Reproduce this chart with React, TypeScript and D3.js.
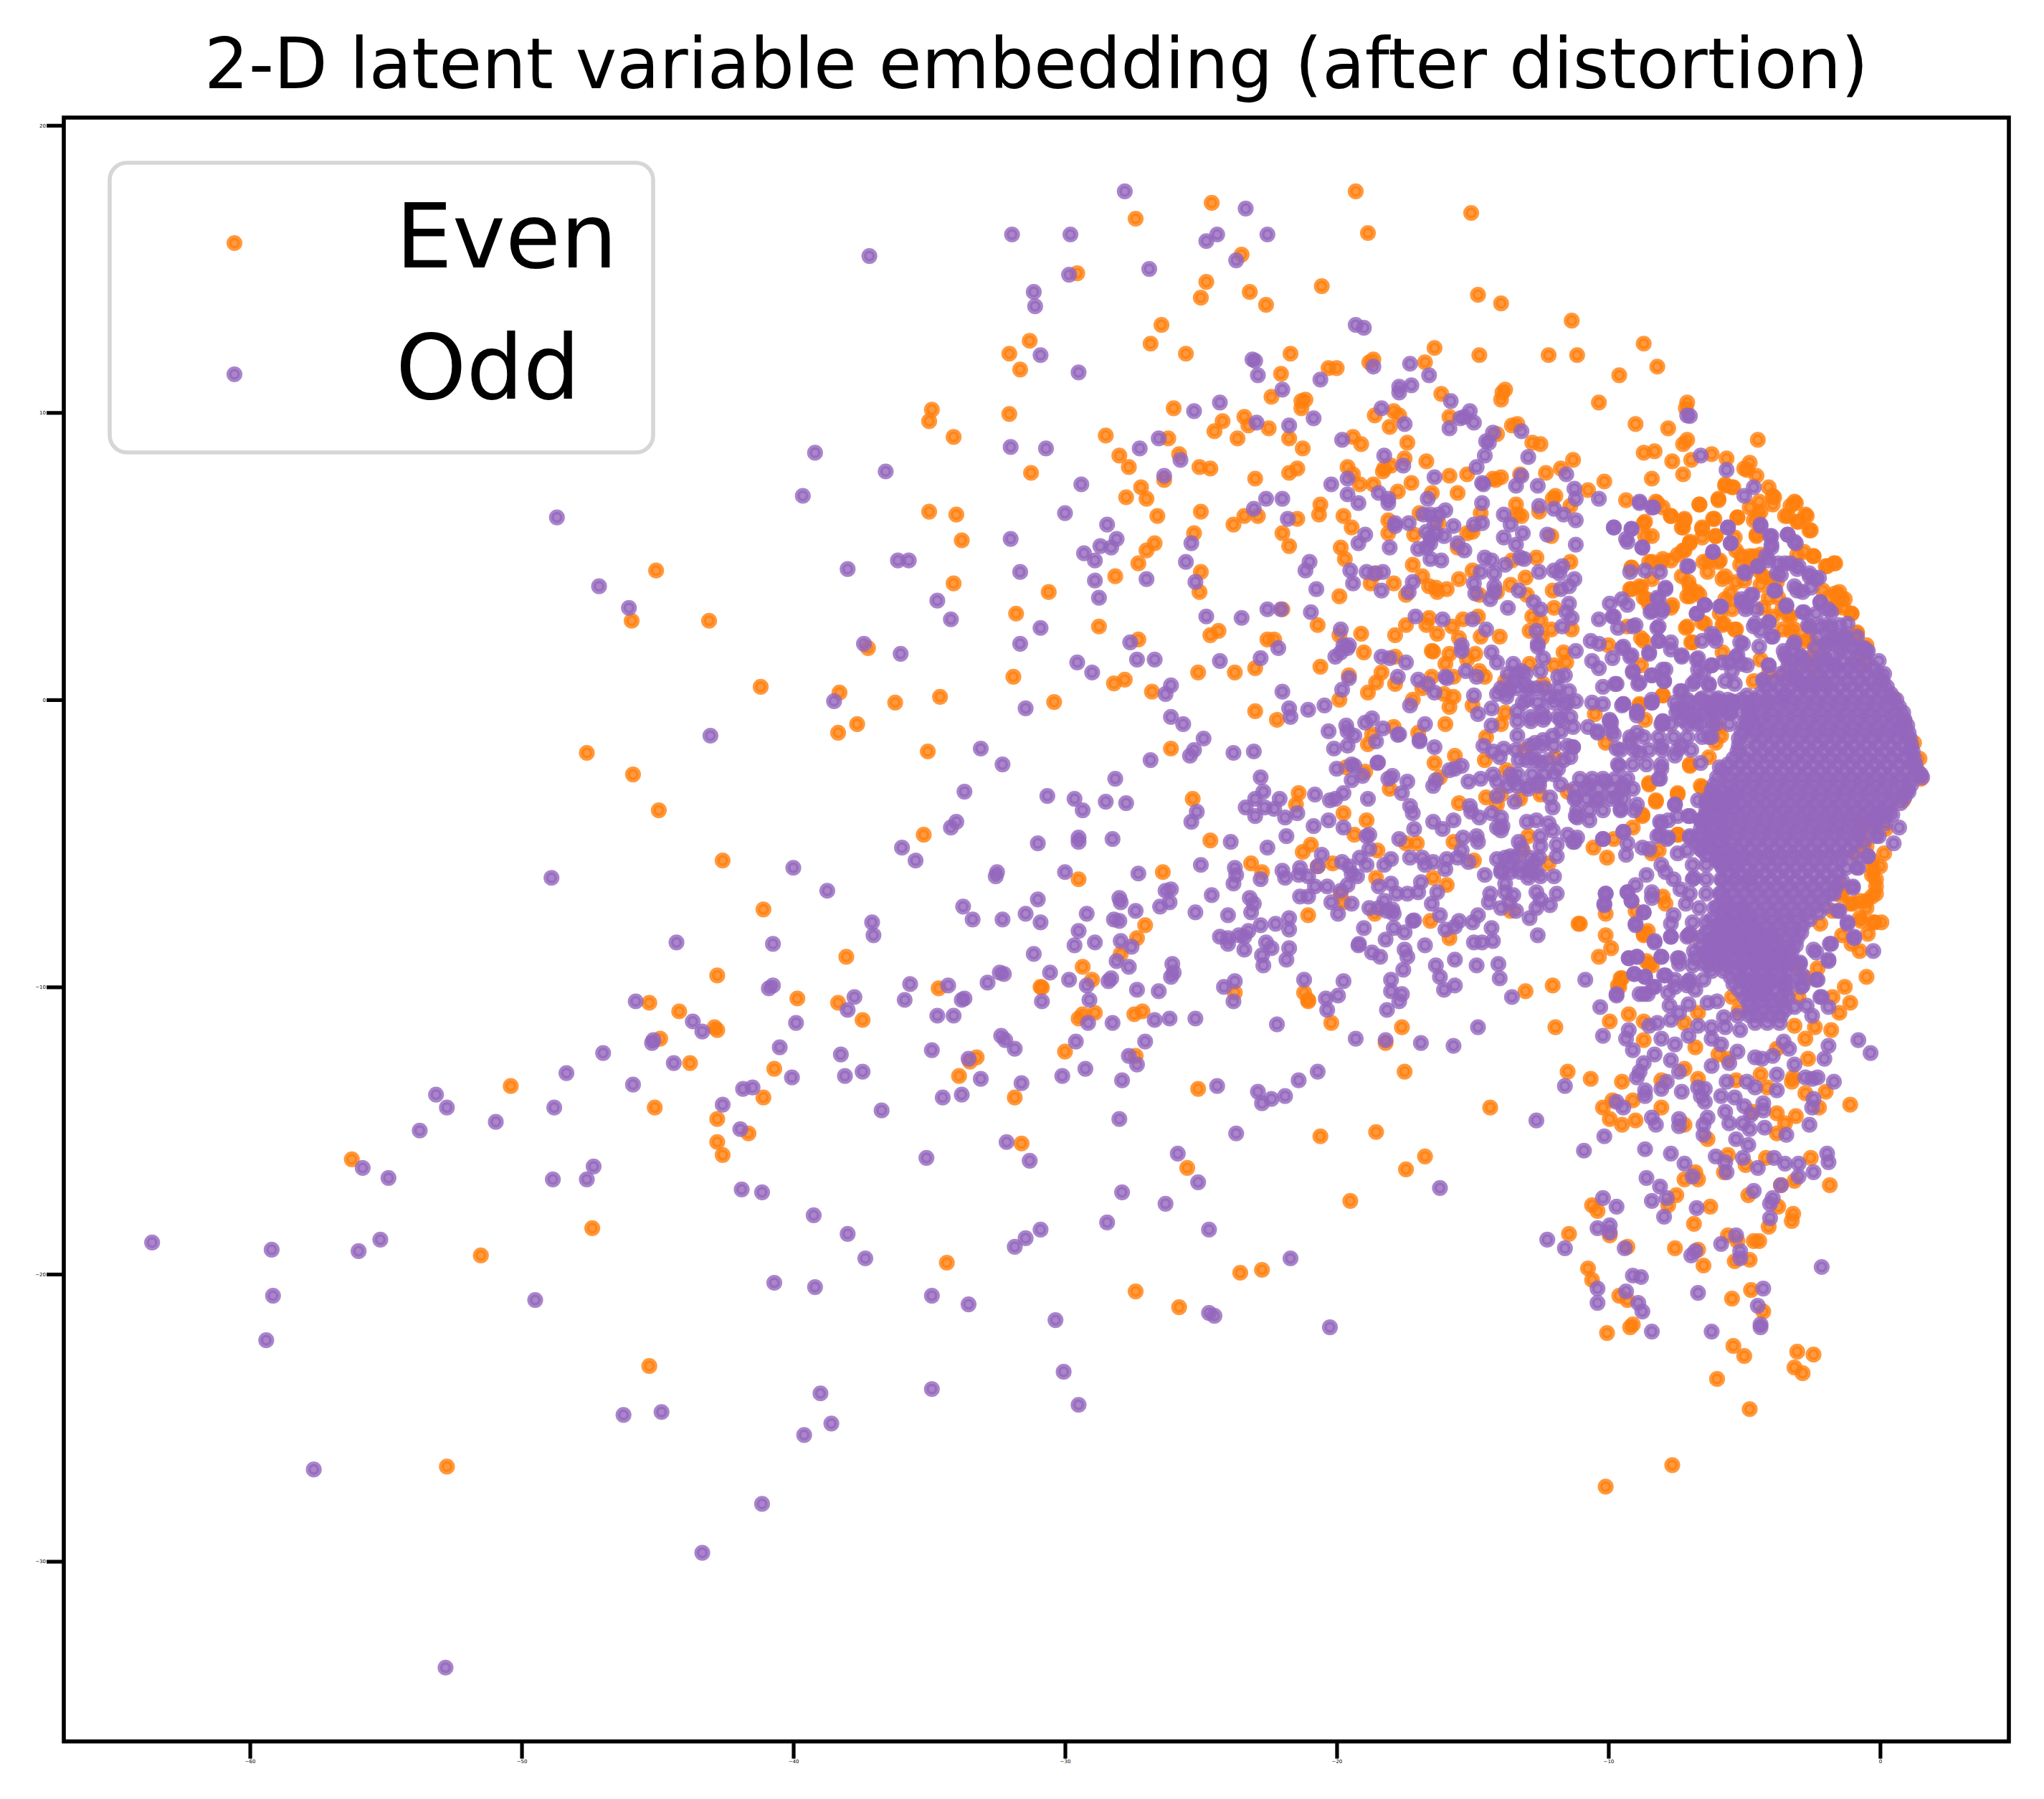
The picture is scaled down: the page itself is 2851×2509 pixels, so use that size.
import { useEffect, useRef } from "react";
import * as d3 from "d3";

type Pt = [number, number];

const titleText = "2-D latent variable embedding (after distortion)";
const legendLabels = ["Even", "Odd"];
const xTicks = [-60, -50, -40, -30, -20, -10, 0];
const yTicks = [20, 10, 0, -10, -20, -30];

// left to right
const evenFar: Pt[] = [[-56.25,-16],[-50.4,-13.45],[-51.5,-19.35],[-52.75,-26.7],[-45.3,-23.2],[-47.4,-18.4],[-45.1,-14.2],[-45.3,-10.55],[-44.9,-11.8],[-44.2,-10.85],[-43.8,-12.65],[-42.9,-11.4],[-47.6,-1.85],[-45.9,-2.6],[-44.95,-3.85],[-45.95,2.75],[-45.05,4.5],[-43.1,2.75]];
const oddFar: Pt[] = [[-63.6,-18.9],[-59.2,-19.15],[-59.15,-20.75],[-59.4,-22.3],[-56,-19.2],[-55.2,-18.8],[-57.65,-26.8],[-52.8,-33.7],[-55.85,-16.3],[-54.9,-16.65],[-53.75,-15],[-53.15,-13.75],[-52.75,-14.2],[-50.95,-14.7],[-48.8,-14.2],[-48.35,-13],[-48.85,-16.7],[-47.6,-16.7],[-47.35,-16.25],[-49.5,-20.9],[-46.25,-24.9],[-44.85,-24.8],[-43.35,-29.7],[-41.15,-28],[-39.6,-25.6],[-38.6,-25.2],[-39,-24.15],[-34.9,-24],[-30.05,-23.4],[-29.5,-24.55],[-47,-12.3],[-45.9,-13.4],[-45.8,-10.5],[-45.2,-11.95],[-45.15,-11.85],[-44.4,-12.65],[-44.3,-8.45],[-43.7,-11.2],[-43.35,-11.55],[-48.9,-6.2],[-48.7,6.35],[-47.15,3.95],[-46.05,3.2],[-43.05,-1.25]];

const evenUpperMid: Pt[] = [[-24.6,17.3],[-27.4,16.75],[-23.5,15.5],[-29.55,14.85],[-24.8,14.55],[-25,14],[-23.2,14.2],[-22.6,13.75],[-26.45,13.05],[-31.3,12.5],[-26.85,12.4],[-32.05,12.05],[-25.55,12.05],[-31.65,11.5],[-21.7,12.05],[-22.05,11.35],[-22.4,10.55],[-26,10.15],[-34.9,10.1],[-35,9.7],[-32.05,9.95],[-34.1,9.15],[-28.5,9.2],[-26.2,9.1],[-24.2,9.7],[-24.5,9.35],[-23.4,9.85],[-23.25,9.55],[-22.5,9.45],[-23.65,9.1],[-21.75,9.1],[-28,8.5],[-25.8,8.55],[-27.65,8.1],[-25.05,8.1],[-24.65,8.05],[-31.25,7.9],[-26.35,7.65],[-23,7.7],[-21.75,7.9],[-27.2,7.4],[-27.75,7.05],[-27,7],[-35,6.55],[-34,6.45],[-25,6.55],[-26.6,6.4],[-23.4,6.4],[-22.9,6.4],[-23.8,6.1],[-25.25,5.8],[-22,5.8],[-33.8,5.55],[-26.7,5.45],[-27,5.2],[-21.75,5.35],[-27.3,4.75],[-25,4.45],[-28.15,4.3],[-34.1,4.05],[-30.6,3.75],[-25.05,3.75],[-31.8,3],[-22,3.15],[-28.75,2.55],[-24.35,2.4],[-24.65,2.25],[-27.3,2.1],[-22.55,2.1],[-22.3,2.1],[-37.25,1.8],[-23,1.1],[-25.1,0.95],[-23.75,0.95],[-31.9,0.8],[-27.8,0.7],[-28.2,0.57],[-41.2,0.45],[-38.3,0.25],[-26.8,0.28],[-34.6,0.1],[-36.25,-0.1],[-30.4,-0.08],[-23,-0.4],[-22.2,-0.7],[-37.65,-0.85],[-38.35,-1.15],[-35.05,-1.8],[-26.1,-1.7]];
const oddUpperMid: Pt[] = [[-27.8,17.7],[-23.35,17.1],[-31.95,16.2],[-29.8,16.2],[-24.4,16.2],[-24.8,15.97],[-22.55,16.2],[-23.7,15.3],[-37.2,15.45],[-26.9,15],[-29.85,14.8],[-31.15,14.2],[-31.1,13.7],[-30.9,12],[-29.5,11.4],[-23.1,11.85],[-23,11.8],[-22.9,11.3],[-22,10.8],[-24.3,10.35],[-25.25,10.05],[-22.95,9.65],[-21.75,9.55],[-26.55,9.1],[-27.25,8.75],[-32,8.8],[-30.7,8.75],[-39.2,8.6],[-36.6,7.95],[-25.75,8.35],[-26.35,7.8],[-29.4,7.5],[-39.65,7.1],[-22.6,7],[-22,7],[-23.05,6.65],[-21.8,6.3],[-30,6.5],[-28.45,6.1],[-28.1,5.6],[-32,5.6],[-28.7,5.35],[-28.3,5.3],[-29.3,5.1],[-28.9,4.85],[-25.35,5.45],[-25.55,4.8],[-38,4.55],[-36.15,4.85],[-35.75,4.85],[-31.65,4.45],[-28.9,4.15],[-27,4.2],[-25.2,4.1],[-28.75,3.55],[-34.7,3.45],[-34.2,2.8],[-24.8,2.9],[-23.5,2.85],[-22.55,3.15],[-22.05,3.15],[-30.9,2.5],[-37.4,1.95],[-31.65,1.95],[-36.05,1.6],[-27.6,2],[-22.15,1.8],[-22.8,1.45],[-27.35,1.4],[-26.7,1.4],[-24.3,1.35],[-29.55,1.3],[-29,0.95],[-26.1,0.5],[-26.3,0.2],[-22,0.28],[-38.5,-0.05],[-31.45,-0.3],[-26.1,-0.6],[-25.65,-0.85],[-21.75,-0.3],[-21.7,-0.6],[-24.9,-1.35],[-33.1,-1.7]];

const evenLowerMid: Pt[] = [[-42.6,-5.6],[-35.2,-4.7],[-41.1,-7.3],[-25.3,-3.45],[-24.65,-4.9],[-23.15,-5.7],[-22.75,-6],[-26.4,-6],[-29.5,-6.25],[-27.05,-7.85],[-27.35,-8.3],[-38.05,-8.95],[-27.95,-8.85],[-42.8,-9.6],[-29.35,-9.3],[-29,-9.75],[-30.9,-10],[-30.85,-10.02],[-34.65,-10.05],[-39.85,-10.4],[-38.35,-10.55],[-23.75,-10.2],[-37.45,-11.15],[-29.35,-10.95],[-29.5,-11.1],[-28.9,-10.9],[-27.45,-10.95],[-27.15,-10.85],[-42.8,-11.5],[-30,-12.25],[-33.25,-12.45],[-33.5,-12.6],[-27.4,-12.4],[-40.7,-12.85],[-33.9,-13.1],[-41.1,-13.85],[-31.85,-13.85],[-25.1,-13.55],[-31.6,-15.45],[-41.65,-15.1],[-42.8,-14.6],[-42.8,-15.4],[-42.6,-15.85],[-25.5,-16.3],[-34.35,-19.6],[-23.55,-19.95],[-22.75,-19.85],[-27.4,-20.6],[-25.8,-21.15]];
const oddLowerMid: Pt[] = [[-32.3,-2.25],[-26.85,-2.1],[-25.4,-1.95],[-25.25,-1.75],[-23.8,-1.85],[-23.05,-1.8],[-28.15,-2.75],[-22.8,-2.7],[-33.7,-3.2],[-30.65,-3.35],[-29.65,-3.45],[-29.35,-3.85],[-28.5,-3.55],[-27.75,-3.6],[-22.7,-3.2],[-23,-3.45],[-22.1,-3.45],[-23.35,-3.75],[-22.65,-3.75],[-22.3,-3.8],[-23,-4.05],[-21.9,-4.1],[-25.15,-3.9],[-25.35,-4.25],[-34,-4.25],[-34.2,-4.45],[-21.85,-4.75],[-29.5,-4.95],[-29.5,-4.8],[-28.25,-4.85],[-31,-5],[-23.9,-4.95],[-22.55,-5.15],[-36,-5.15],[-35.5,-5.6],[-40,-5.85],[-25,-5.75],[-23.75,-5.85],[-23.7,-6.1],[-23.8,-6.4],[-22.8,-6.25],[-22,-5.95],[-21.9,-6.2],[-27.3,-6.05],[-30,-6],[-32.5,-6],[-32.55,-6.15],[-38.75,-6.65],[-24.6,-6.8],[-26.1,-6.6],[-26.3,-6.65],[-28,-6.9],[-27.95,-7.05],[-31,-6.95],[-23.2,-6.9],[-23.05,-7.1],[-23.15,-7.4],[-26.15,-7.05],[-26.5,-7.2],[-33.75,-7.2],[-27.4,-7.35],[-25.2,-7.4],[-31.45,-7.45],[-29.2,-7.45],[-24,-7.5],[-37.1,-7.75],[-37.05,-8.2],[-33.4,-7.65],[-32.3,-7.65],[-30.9,-7.75],[-28.2,-7.65],[-28,-7.7],[-22.8,-7.85],[-22.25,-7.8],[-21.75,-7.6],[-21.75,-8],[-29.5,-8.05],[-27.95,-8.4],[-28.9,-8.45],[-29.65,-8.55],[-40.75,-8.5],[-27.55,-8.6],[-24.3,-8.25],[-24,-8.3],[-23.6,-8.2],[-23.25,-8.05],[-23.4,-8.25],[-24,-8.5],[-22.6,-8.45],[-22.4,-8.65],[-23.4,-8.7],[-22.75,-8.9],[-21.75,-8.65],[-31.15,-8.85],[-28.1,-9.1],[-27.65,-9.3],[-26.05,-9.2],[-22.7,-9.25],[-21.85,-9.05],[-26,-9.5],[-26.1,-9.65],[-32.4,-9.5],[-32.25,-9.55],[-30.55,-9.5],[-28.3,-9.7],[-28.4,-9.8],[-29.85,-9.75],[-32.85,-9.85],[-35.7,-9.9],[-34.3,-9.95],[-29.2,-9.95],[-23.75,-9.8],[-24.15,-10],[-40.75,-9.95],[-40.9,-10.05],[-27.35,-10.1],[-26.55,-10.15],[-37.75,-10.35],[-33.7,-10.4],[-33.8,-10.45],[-35.9,-10.45],[-30.85,-10.5],[-29.1,-10.45],[-23.8,-10.5],[-38,-10.8],[-34.7,-11],[-34.1,-11],[-39.9,-11.25],[-28.25,-11.25],[-29.15,-11.25],[-26.7,-11.15],[-26.15,-11.1],[-25.2,-11.1],[-22.2,-11.3],[-32.35,-11.7],[-32.2,-11.85],[-31.85,-12.15],[-29.6,-11.9],[-27.05,-11.9],[-40.5,-12.1],[-34.9,-12.2],[-38.25,-12.35],[-33.55,-12.5],[-27.65,-12.4],[-27.35,-12.7],[-37.45,-12.95],[-38.1,-13.1],[-40.05,-13.15],[-29.25,-12.85],[-33.1,-13.2],[-30.1,-13.1],[-27.9,-13.25],[-31.6,-13.35],[-41.5,-13.5],[-41.85,-13.55],[-24.4,-13.45],[-22.9,-13.65],[-22.4,-13.9],[-21.9,-13.8],[-22.75,-14.05],[-33.8,-13.75],[-34.5,-13.85],[-42.6,-14.1],[-36.75,-14.3],[-28,-14.6],[-41.95,-14.95],[-23.7,-15.1],[-32.15,-15.4],[-31.3,-16.05],[-35.1,-15.95],[-25.85,-15.8],[-25.1,-16.8],[-41.9,-17.05],[-41.15,-17.15],[-27.9,-17.15],[-26.3,-17.55],[-39.25,-17.95],[-28.45,-18.2],[-30.9,-18.45],[-31.45,-18.75],[-31.85,-19.05],[-38,-18.6],[-24.7,-18.45],[-37.35,-19.45],[-21.7,-19.45],[-40.7,-20.3],[-39.2,-20.45],[-34.9,-20.75],[-33.55,-21.05],[-30.35,-21.6],[-24.7,-21.35],[-24.5,-21.45]];

const evenUpperDense: Pt[] = [[-19.3,17.7],[-18.85,16.25],[-15.05,16.95],[-20.55,14.4],[-8.7,12.4],[-14.8,14.1],[-13.95,13.8],[-11.35,13.2],[-16.4,12.25],[-14.75,12],[-12.2,12],[-11.15,12],[-18.65,11.85],[-18.8,11.75],[-16.75,11.75],[-20.3,11.55],[-20,11.55],[-13.8,10.8],[-13.9,10.7],[-13.95,10.45],[-16.15,10.65],[-21.15,10.45],[-21.3,10.4],[-21.3,10.15],[-17.9,10.05],[-17.7,9.9],[-18.6,9.9],[-15.85,9.85],[-18.05,9.5],[-19.4,9.15],[-19.1,8.9],[-13.55,9.55],[-13.35,9.6],[-14.1,9.25],[-12.8,8.95],[-12.5,8.9],[-21.25,8.75],[-17.4,8.95],[-17.5,8.4],[-16.7,8.3],[-18.25,8.05],[-18,8.15],[-18.3,7.95],[-19.6,8.1],[-21.45,8.05],[-11.3,8.35],[-11.75,8.05],[-12.3,7.9],[-15.85,7.8],[-15.2,7.85],[-13.95,7.75],[-14.25,7.7],[-14.15,7.65],[-13.25,7.85],[-19.4,7.85],[-19.15,7.5],[-18.65,7.5],[-17.25,7.55],[-17.75,7.25],[-15.55,7.2],[-16.5,7.2],[-11.95,7.1],[-12.05,7],[-20.6,6.8],[-20.65,6.45],[-21.45,6.3],[-19.75,6.4],[-19.45,6],[-16.95,6.5],[-18.1,6.25],[-18.1,5.8],[-17.15,5.75],[-13.4,6.8],[-14.7,6.5],[-13.35,6.45],[-13.2,6.4],[-12.55,6.55],[-11.4,6.75],[-12.1,5.7],[-15.2,5.8],[-15,5.85],[-16.25,6.15],[-15.55,5.3],[-19.85,5.3],[-19.7,4.9],[-17.2,4.7],[-12.65,4.95],[-11.4,4.8],[-13.55,4.85],[-16.85,4.3],[-15,4.5],[-15.5,4.2],[-13.05,4.25],[-13.6,4],[-18.55,4.4],[-18.75,4.05],[-17.9,4.05],[-16.6,3.95],[-16.35,3.9],[-16.3,3.75],[-15.95,3.85],[-17.45,3.65],[-14.75,3.65],[-14.1,3.75],[-13,3.65],[-19.9,3.6],[-12.05,3.8],[-12,3.2],[-12.8,2.9],[-12.5,2.75],[-12.1,2.45],[-11.35,2.45],[-16.6,2.85],[-16.7,2.6],[-17.45,2.6],[-15.35,2.8],[-14.8,2.9],[-15.75,2.55],[-16.3,2.3],[-17.85,2.25],[-15.5,2.15],[-14.7,2.2],[-14,2.2],[-12.9,2.4],[-19.1,2.3],[-20.7,2.6],[-19.9,2.25],[-12.45,2.15]];
const oddUpperDense: Pt[] = [[-19.3,13.05],[-19,12.95],[-17.3,11.7],[-18.65,11.6],[-20.6,11.15],[-16.6,11.3],[-17.25,10.95],[-17.7,10.9],[-17.7,10.7],[-20.85,9.8],[-18.35,10.15],[-17.5,9.6],[-15.8,10.4],[-15.1,10.05],[-15.45,9.8],[-14.95,9.65],[-15.85,9.45],[-15.3,9.85],[-14.25,9.3],[-14.5,9],[-14.4,8.95],[-13.2,9.35],[-19.8,9.05],[-14.55,8.5],[-14.85,8.1],[-12.95,8.45],[-18.25,8.5],[-17.55,8.15],[-19.6,7.7],[-20.2,7.5],[-16.4,7.75],[-14.65,7.55],[-14.6,7.5],[-13.2,7.8],[-13.4,7.45],[-12.6,7.45],[-11.55,7.85],[-11.25,7.35],[-11.2,7],[-18.45,7.2],[-19.6,7.15],[-19.2,6.85],[-18.1,7],[-18.1,6.85],[-16.65,7],[-14.65,6.85],[-12.55,6.75],[-13.85,6.45],[-12,6.65],[-11.65,6.45],[-16,6.6],[-16.25,6.45],[-16.55,6.45],[-16.8,6.45],[-16.4,6.15],[-11.2,6.25],[-17.85,6.15],[-17.85,6.05],[-17.35,6.15],[-15.7,6.05],[-14.65,6.15],[-14.95,6.1],[-13.6,6.1],[-16.7,5.85],[-16.35,5.8],[-16.05,5.7],[-16.55,5.65],[-16.55,5.45],[-12.25,5.75],[-13.15,5.8],[-13.85,5.65],[-18.95,5.75],[-19.2,5.45],[-18.05,5.3],[-11.2,5.4],[-15.55,5.45],[-15.3,5.2],[-13.4,5.4],[-21,4.8],[-21.15,4.5],[-17,5.25],[-16.7,5.3],[-16.55,4.9],[-16.15,4.85],[-14.55,4.95],[-14.3,4.85],[-13.25,4.95],[-13.1,4.9],[-13.8,4.7],[-19.5,4.5],[-18.9,4.45],[-18.6,4.4],[-18.3,4.45],[-14.7,4.45],[-14.2,4.4],[-12.55,4.45],[-12,4.5],[-11.7,4.65],[-11.8,4.4],[-11.25,4.2],[-17.2,4.1],[-19.4,4.05],[-14.95,4.05],[-14.2,3.95],[-14.2,3.75],[-18.35,3.8],[-13.3,3.8],[-11.75,3.85],[-11.45,3.95],[-17.35,3.75],[-14.9,3.7],[-20.75,3.85],[-14.35,3.5],[-12.75,3.4],[-12.5,3.15],[-13.7,3.2],[-11.45,3.35],[-11.55,3.05],[-11.35,2.85],[-11.7,2.55],[-17.1,2.9],[-20.95,3.05],[-16.1,2.8],[-15,2.8],[-14.5,2.45],[-12.65,2.4],[-19.85,2.45],[-19.75,1.9],[-19.55,1.9],[-12.6,1.95],[-15.4,1.9]];

const evenLowerDense: Pt[] = [[-20.6,1.15],[-19,1.65],[-18.35,0.95],[-18.55,0.6],[-17.85,0.55],[-18.85,0.25],[-19.9,0],[-19.55,0.85],[-17.85,1.5],[-16.5,1.7],[-16.45,1.68],[-15.85,1.6],[-14.9,1.6],[-15.2,1.4],[-16,1.25],[-16.5,0.8],[-15.7,0.8],[-14.55,0.8],[-14.75,1],[-16.85,0.4],[-15.7,0.1],[-16.05,0.2],[-15.85,-0.25],[-17.2,0],[-15,-0.2],[-13.8,0.65],[-13.8,-0.45],[-13.95,-0.85],[-12.9,1.25],[-12,1.2],[-11.65,1.65],[-11.55,1.3],[-12.4,0.55],[-16,-0.85],[-17.9,-0.95],[-18.7,-1.2],[-18.85,-1.55],[-17,-1.15],[-14.5,-1.3],[-15.65,-1.95],[-16.4,-2.2],[-14.55,-2.1],[-13.75,-2.45],[-13.1,-1.75],[-11.95,-2],[-18.95,-2.5],[-19.65,-2.35],[-16.2,-2.7],[-18.05,-3.1],[-14.5,-3.4],[-13.95,-3.3],[-14.1,-3.65],[-15.5,-3.6],[-12.5,-3.3],[-11.5,-3.2],[-13.25,-3.45],[-21.4,-3.25],[-21.5,-3.65],[-19.75,-3.95],[-18.9,-4.2],[-19.35,-4.7],[-18.5,-5.25],[-17.45,-5],[-17.05,-5],[-15.7,-4.95],[-12.95,-4.75],[-13.15,-5.25],[-14.95,-5.6],[-20.95,-5.05],[-21.25,-5.3],[-20.15,-5.7],[-20.7,-5.8],[-12.2,-5.7],[-18.55,-6.2],[-16.45,-6.2],[-15.95,-6.45],[-19.85,-6.75],[-19.75,-7.05],[-18.6,-7.45],[-13.6,-7.35],[-16.55,-7.7],[-15.85,-8.3],[-11.1,-7.8],[-21.05,-7.5],[-13.05,-10.15],[-12.05,-9.95],[-21.2,-10.2],[-21.05,-10.5],[-21.05,-10.45],[-20.2,-11.25],[-17.6,-11.4],[-18.2,-11.95],[-17.5,-12.95],[-18.55,-15.05],[-20.6,-15.2],[-19.5,-17.45],[-17.45,-16.35],[-16.75,-15.9],[-14.35,-14.2],[-11.95,-11.4]];
const oddLowerDense: Pt[] = [[-19.85,1.65],[-20.05,1.5],[-19.6,1.8],[-18.35,1.5],[-18.05,1.45],[-17.45,1.3],[-15.4,1.7],[-14.3,1.65],[-14.1,1.3],[-13.5,1.25],[-13.2,1],[-12.6,1.85],[-12.4,1.45],[-12.5,1],[-11.85,0.8],[-11.6,0.85],[-11.2,1.7],[-17.75,0.8],[-19.55,0.75],[-19.8,0.35],[-17,0.7],[-16.65,0.55],[-16.4,0.25],[-16,0.8],[-15.95,0.75],[-15.25,1],[-14.85,0.8],[-14.95,0.15],[-14.1,0.2],[-13.7,0.3],[-13.45,0.65],[-13.05,0.5],[-12.65,0.4],[-13.75,0.1],[-13,0],[-12.2,0.1],[-11.9,0.1],[-11.45,0.3],[-11.2,-0.05],[-13.35,-0.4],[-12.45,-0.4],[-11.6,-0.2],[-14.3,-0.3],[-14.8,-0.5],[-17.3,-0.2],[-20.45,-0.2],[-21.05,-0.35],[-13.35,-0.75],[-12.85,-0.75],[-12.4,-0.7],[-11.75,-0.7],[-11.3,-0.95],[-14.3,-0.9],[-16.75,-0.85],[-18.7,-0.65],[-18.95,-0.8],[-19.65,-0.9],[-19.6,-1.1],[-19.35,-1.25],[-20.3,-1.1],[-18.3,-1],[-17.7,-1.2],[-17.75,-1.22],[-16.95,-1.45],[-16.95,-1.4],[-18.55,-1.45],[-19.6,-1.6],[-20.1,-1.7],[-16.4,-1.65],[-13.35,-1.25],[-14.6,-1.6],[-14.25,-1.8],[-13.85,-1.7],[-14,-2],[-13.4,-1.75],[-13.3,-2.1],[-12.7,-1.5],[-12.4,-1.4],[-12.05,-1.25],[-11.75,-1.1],[-11.3,-1.65],[-11.4,-2],[-12.8,-2],[-12.45,-2.2],[-11.85,-2.4],[-18.5,-2.2],[-18.48,-2.18],[-20,-2.4],[-19.45,-2.25],[-19.35,-2.3],[-19.05,-2.65],[-19.45,-2.8],[-15.4,-2.3],[-15.85,-2.45],[-15.65,-2.4],[-17.95,-2.65],[-18.1,-2.75],[-17.4,-2.85],[-15.15,-2.85],[-14.7,-2.75],[-14.25,-2.6],[-14.1,-2.85],[-13.5,-2.8],[-12.95,-3.1],[-12.55,-2.85],[-11.75,-2.95],[-16.35,-2.8],[-16.45,-3],[-17.6,-3.25],[-18.85,-3.45],[-19.75,-3.25],[-20.05,-3.45],[-20.25,-3.5],[-20.8,-3.3],[-14.1,-3.35],[-13.45,-3.55],[-12.15,-3.4],[-11.2,-3.4],[-17.3,-3.7],[-17.2,-3.95],[-15.1,-3.7],[-15.05,-3.9],[-14.75,-4.1],[-14.3,-3.95],[-13.95,-4.1],[-12.05,-3.75],[-11.2,-4.05],[-21.45,-3.95],[-16.45,-4.25],[-16.1,-4.5],[-15.7,-4.2],[-14.1,-4.45],[-13.9,-4.4],[-13.95,-4.55],[-13,-4.25],[-12.65,-4.2],[-12.2,-4.3],[-12.05,-4.55],[-20.85,-4.4],[-20.3,-4.2],[-19.75,-4.45],[-17.15,-4.5],[-18.8,-4.7],[-18.9,-4.75],[-17.7,-4.85],[-15.35,-4.8],[-14.85,-4.75],[-14.8,-4.95],[-12.5,-4.75],[-11.5,-4.7],[-11.25,-4.95],[-13.3,-4.95],[-13.2,-5.15],[-12.5,-5.1],[-11.9,-5.05],[-20.55,-5.4],[-18.8,-5.2],[-15.4,-5.25],[-17.3,-5.5],[-16.85,-5.5],[-16.75,-5.75],[-16.45,-5.65],[-18,-5.55],[-18.25,-5.75],[-19.15,-5.5],[-18.9,-5.75],[-19.8,-5.65],[-19.55,-5.8],[-19.45,-6.05],[-19.25,-6.15],[-20.7,-5.8],[-21.05,-6.15],[-21.35,-5.85],[-21.4,-6.1],[-16,-5.9],[-15.95,-5.55],[-15.55,-5.5],[-15.15,-5.65],[-14.1,-5.55],[-13.6,-5.45],[-11.9,-5.45],[-12.7,-5.65],[-12.9,-5.9],[-13.95,-5.95],[-13.65,-5.8],[-13.25,-5.8],[-14.55,-6.1],[-13.8,-6.4],[-12.95,-6.2],[-12.5,-6.15],[-12,-6.15],[-18,-6.4],[-18.45,-6.5],[-16.9,-6.35],[-17,-6.7],[-17.4,-6.75],[-17.8,-6.75],[-19.6,-6.45],[-19.85,-6.65],[-20.35,-6.5],[-20.8,-6.5],[-21.05,-6.85],[-21.35,-6.85],[-16.3,-6.7],[-12.65,-6.7],[-11.9,-6.75],[-14.35,-6.75],[-14.4,-7.05],[-13.8,-6.7],[-13.5,-6.8],[-13.65,-7.05],[-12.5,-6.95],[-19.45,-7.1],[-20.2,-7.05],[-16.5,-7.1],[-18.25,-7],[-18.45,-7.25],[-17.95,-7.3],[-17.9,-7.45],[-18.8,-7.25],[-18.15,-7.35],[-13.95,-7.25],[-13.4,-7.35],[-12.15,-7.15],[-12.65,-7.25],[-19.95,-7.45],[-16.2,-7.5],[-17.2,-7.7],[-17.15,-7.68],[-14.8,-7.5],[-15,-7.75],[-15.5,-7.7],[-15.65,-7.9],[-12.9,-7.6],[-19,-7.95],[-17.9,-7.95],[-17.5,-8.1],[-16,-8],[-14.3,-7.95],[-12.6,-8.2],[-14.95,-8.45],[-14.65,-8.45],[-14.25,-8.4],[-18.2,-8.35],[-16.75,-8.55],[-19.2,-8.55],[-19.18,-8.5],[-18.7,-8.8],[-18.4,-8.95],[-17.5,-8.7],[-17.4,-8.95],[-17.55,-9.4],[-15.65,-9.05],[-16.35,-9.25],[-14.85,-9.25],[-14.05,-9.2],[-16.2,-9.65],[-14,-9.7],[-18,-9.75],[-21.2,-9.75],[-19.75,-9.8],[-15.65,-9.95],[-16.05,-10.1],[-18,-10.15],[-17.6,-10.25],[-13.55,-10.35],[-19.95,-10.3],[-20.4,-10.4],[-20.35,-10.8],[-19.3,-11.8],[-20.7,-12.95],[-21.4,-13.25],[-18.2,-11.85],[-16.9,-11.95],[-14.8,-11.4],[-15.7,-12.05],[-16.2,-17],[-18.15,-10.8],[-17.7,-10.5],[-20.25,-21.85],[-12.65,-14.65],
[-13.7,0.9],[-13.4,0.9],[-13.05,0.9],[-13.95,0.4],[-13.65,0.4],[-13.35,0.4],[-12.9,0.4],[-12.35,0.4],[-11.85,0.4],[-13.15,-0.1],[-12.6,-0.1],[-12,-0.1],[-11.5,-0.1],[-12.85,-0.6],[-12.35,-0.6],[-11.85,-0.6],[-11.4,-0.6],[-12.9,-1.6],[-12.45,-1.6],[-12,-1.6],[-11.5,-1.6],[-13,-2.1],[-12.65,-2.1],[-12.2,-2.1],[-11.65,-2.1],[-13.6,-2.6],[-13.35,-2.6],[-12.8,-2.6],[-12.35,-2.6],[-12,-2.6],[-13.7,-3],[-13.35,-3],[-13,-3],[-12.55,-3],[-13.95,-6],[-13.6,-6],[-13.25,-6],[-12.9,-6],[-12.65,-6],[-13.8,-5.5],[-13.45,-5.5],[-12.9,-5.5],[-12.55,-5.5]];

const evenEdge: Pt[] = [[-9.6,11.3],[-8.2,11.6],[-10.35,10.35],[-9,9.6],[-7.8,9.45],[-7.1,10.35],[-7.15,10.15],[-4.5,9.05],[-7.1,9.05],[-7.25,8.9],[-8.7,8.6],[-8.3,8.65],[-6.2,8.55],[-6.95,8.35],[-7.65,8.3],[-7.25,7.85],[-5.65,8.4],[-4.8,8.25],[-5,8.05],[-8.4,7.7],[-5.7,7.5],[-5.45,7.4],[-4.1,7.4],[-10.15,7.6],[-10.75,7.3],[-9.35,6.95],[-8.2,6.85],[-6.65,6.8],[-5.95,6.95],[-3.9,7.05],[-3.95,6.8],[-3.1,6.85],[-2.7,6.4],[-3.4,6.4],[-3.05,6.2],[-5.25,6.35],[-4.5,6.4],[-6.1,6.3],[-7.2,6.3],[-7.7,6.4],[-8.65,6.2],[-2.55,5.9],[-7.25,6],[-6.55,6],[-6.05,5.7],[-4.55,5.75],[-8.65,5.7],[-7,5.45],[-7.25,5.2],[-5.3,5.2],[-4.8,5],[-4.4,5.05],[-2.45,5],[-1.95,4.65],[-1.65,4.75],[-6.3,4.85],[-5.9,4.85],[-7.7,4.85],[-8.1,4.75],[-8.5,4.8],[-9.15,4.6],[-5.7,4.3],[-5.3,4.1],[-4.3,4.3],[-3.8,4.1],[-8.85,3.95],[-8.6,3.5],[-7.05,4.1],[-6.75,3.75],[-7,3.6],[-1.5,3.75],[-1.3,3.5],[-7.7,3.2],[-9.15,3.85],[-3.4,2.95],[-3.3,2.4],[-2.75,2.05],[-5.75,2.65],[-5.3,2.45],[-6.45,2.65],[-7.1,2.55],[-1.05,3],[-0.85,2.35],[-0.75,1.5],[-2.5,1.3],[-6.95,2],[-8.7,2.05],[-0.55,1.2],[0,0.6],[0.5,0.05],[0.9,-0.75],[1.25,-1.5],[1.45,-2.05],[1.5,-2.75],[0.85,-3.5],[-5.95,-0.95],[-4.7,-0.7],[-7,-2.3],[-6.55,-3.05],[-7.45,-3.25],[-8.5,-2.95],[-8.25,-3.5],[-8.75,-4],[-7.45,-4.7],[-6.05,-1.5],
[-11.05,-7.8],[-10.1,-7.45],[-10.1,-8.2],[-9.9,-8.65],[-10.35,-8.95],[-9.5,-9.7],[-9.65,-9.95],[-8.5,-9.2],[-8.7,-8.15],[-8.55,-8.05],[-9.25,-10.95],[-9.95,-11.2],[-8.7,-11.2],[-8.7,-11.85],[-11.5,-12.95],[-10.65,-13.2],[-9.5,-13.3],[-8.05,-13.25],[-6.7,-13.2],[-7.2,-12.85],[-9.1,-13.95],[-9.85,-13.95],[-10.2,-14.2],[-8.05,-14.2],[-9.95,-14.6],[-9.5,-14.8],[-9,-14.65],[-7.2,-14.8],[-6.35,-15.3],[-3.8,-14.4],[-3.1,-14.5],[-3.5,-14.75],[-3.8,-15.1],[-2.25,-14.2],[-2,-13.65],[-2.75,-13.7],[-1.1,-14.1],[-2.65,-12.5],[-2.75,-11.8],[-2.4,-11.4],[-1.8,-11.5],[-3.15,-11.35],[-3,-10.35],[-2.3,-9.35],[-1.75,-10.35],[-1.1,-10.55],[-1.5,-10.9],[-1.3,-10],[-0.5,-9.65],[-0.75,-8.75],[-0.45,-8.15],[0.05,-7.75],[-0.2,-7.75],[-0.7,-7.7],[-1,-7.1],[-0.5,-7],[-0.15,-6.75],[-0.15,-6.25],[-0.25,-5.9],[0,-5.8],[0.15,-5.35],[-0.6,-5],[-0.6,-4.45],[0.2,-4.5],[-2.2,-7.8],[-1.75,-7.35],[-1.45,-6.8],[-1.4,-8.2],[-1.05,-8.5],[-3.15,-9.25],[-2.7,-9.7],[-5.45,-10.35],[-5.2,-10.8],[-6.7,-10.9],[-7.2,-11.25],[-6.8,-12.1],[-3.8,-12.15],[-5.6,-12.5],[-5.95,-12.35],[-4.4,-13.05],[-5.3,-13.25],[-4.15,-13.5],[-3.2,-13.15],[-3.25,-13.3],[-4.7,-14.35],[-5.6,-15.85],[-4.95,-16.2],[-4.2,-15.95],[-2.55,-15.95],[-3.15,-16.75],[-1.85,-16.9],[-5.75,-16.45],[-7.2,-16.7],[-6.7,-16.7],[-6.8,-16.45],[-7.5,-17.25],[-7.8,-17.6],[-6.25,-17.65],[-4.85,-17.25],[-3.65,-16.9],[-3.75,-17.65],[-10.6,-17.6],[-10.4,-17.8],[-3.2,-17.9],[-3.25,-18.15],[-6.85,-18.25],[-4.1,-18.35],[-11.45,-18.6],[-9.95,-18.65],[-5.6,-18.65],[-5.25,-18.85],[-4.65,-18.85],[-4.45,-18.85],[-9.3,-19.05],[-7.55,-19.1],[-6.7,-19.15],[-6.5,-19.7],[-5.35,-19.55],[-4.8,-19.5],[-10.75,-19.8],[-10.6,-20.2],[-9.6,-20.75],[-9.3,-20.9],[-4.75,-20.55],[-5.45,-20.85],[-4.3,-21.3],[-9.1,-21.75],[-9.2,-21.85],[-10.05,-22.05],[-5.4,-22.5],[-5,-22.85],[-3.05,-22.7],[-2.45,-22.8],[-3.15,-23.25],[-2.85,-23.45],[-6,-23.65],[-4.8,-24.7],[-10.1,-27.4],[-7.65,-26.65]];
// the thick orange band behind the top and right of the mass
const evenBand: Pt[] = [[-8.7,6.15],[-8.4,5.7],[-8,4.9],[-7.45,5.05],[-7.2,5.2],[-7,5.5],[-7.3,6],[-6.55,5.95],[-6.55,5.65],[-6.5,4.8],[-5.95,4.8],[-6.35,4.45],[-7.3,4.3],[-7,3.9],[-7.1,3.6],[-6.65,3.65],[-8.7,3.55],[-8.8,3.9],[-8.5,3.3],[-5.8,4.2],[-5.5,3.7],[-5.7,3.5],[-5.45,3.15],[-5.9,3],[-5.1,5],[-4.65,5],[-4.7,4.65],[-5,4.15],[-4.4,4],[-4.1,3.55],[-4.3,3.2],[-3.75,3.55],[-3.6,3.15],[-3.95,2.9],[-3.3,2.9],[-3.15,2.45],[-3.6,2.45],[-3.05,2.05],[-2.5,2],[-2.45,1.55],[-2.35,1.05],[-2.6,2.4],[-4,4.2],[-4.45,4.5],[-1.65,3.7],[-1.45,3.55],[-1.65,3.2],[-1.35,3.2],[-1.9,3.55],[-2.1,3.8],[-1.05,3],[-0.85,2.3],[-0.5,1.9],[-0.6,1.3],[-3.05,5.05],[-2.45,5],[-2.8,5.15],[-2,4.65],[-1.7,4.75],[-4.4,6.55],[-4.8,6.7],[-4.65,6.25],[-4.45,6.9],[-3.95,7.1],[-4.9,8],[-4.55,7.8],[-5.7,7.45],[-5.4,7.4],[-3.5,6.4],[-3.3,6.75],[-3,6.2],[-2.75,6.45],[-2.6,5.9],[-3.15,6.9],[-5.15,4.7],[-7.7,6.4],[-8,6.7],[-8.25,6.9],[-7.2,6.25],[-6.15,6.3],[-6.05,5.7],[-5.25,6.35],[-5.35,5.65],[-4.55,5.7],[-5.95,7],[-6.65,6.8],[-8.4,4.8],[-9.15,4.6],[-9.2,3.85],[-7.65,3.3],[-8.4,4.2],[-7.15,2.5],[-6.55,2.7],[-5.8,2.6],[-5.35,2.45],[-6.9,2],[-5.8,1.65],[-8.8,2.15],[-8.8,1.2],[-9.3,2.55],[-10,1.9],[-4.4,1.4],[-4.1,0.9],[-4.65,0.65],[-3.5,0.9],[-3.15,1.05],[-8,0.15],[-8.85,-0.2],[-8.65,-0.7],
[-0.6,-4.35],[-0.75,-4.75],[-0.5,-5.1],[-0.95,-5.35],[-0.3,-5.6],[-0.3,-6.1],[-0.15,-6.5],[-0.3,-6.85],[-0.75,-7],[-1.1,-7.1],[-0.5,-7.25],[-0.75,-7.6],[-0.25,-7.75],[-1.4,-6.7],[-1.5,-6.4],[-8.5,-2.9],[-8.25,-3.55],[-7.45,-3.3],[-8.75,-4.05],[-9.1,-4.45],[-7.45,-4.7],[-10.55,-5.15],[-10.05,-5.5],[-9.8,-4.85],[-8.4,-5.35],[-8.15,-5.25],[-6.6,-3],[-6.4,-3.5],[-7,-2.25],[-6.3,-2],[-5.85,-1.25],[-7.9,-7.1],[-8,-6.85],[-9,-7.35],[-8.7,-8.2],[-8.6,-9.1],[-8.4,-9.25],[-9.55,-9.7],[-9.6,-10],[-7,-8.2],[-8,0.15],[-8.85,-0.15],[-10.5,-0.5],[-10.1,-1.5],[-5.95,-5.6]];
const oddEdge: Pt[] = [[-7.1,9.9],[-7,9.88],[-6.6,8.5],[-5.65,8],[-4.65,7.4],[-5,7.1],[-8.85,6.85],[-8.35,6.7],[-9.8,6],[-9.15,5.95],[-9.3,5.5],[-8.75,5.3],[-10.35,7],[-5.6,6],[-5.5,5.45],[-6.15,5.15],[-4.4,6.1],[-4.05,5.7],[-4,5.3],[-3.4,5.75],[-3.1,5.45],[-7.05,4.65],[-4.95,4.4],[-4.5,4.65],[-4.1,4.85],[-3.5,4.75],[-3.8,4.4],[-3,4.65],[-2.6,4.3],[-2.35,4.2],[-3.15,3.95],[-2.85,3.75],[-3.85,3.8],[-2.2,3.4],[-1.8,3.05],[-2.85,3.05],[-3.45,3.3],[-1.2,2.65],[-2.65,2.6],[-9.95,3.35],[-9.5,3.5],[-9.3,3.3],[-7.9,3.85],[-8.15,3.5],[-8.45,3.05],[-8.05,3.05],[-8.15,2.55],[-8.15,2.05],[-6.45,3.3],[-6.75,3],[-5.85,3.25],[-5.1,3.4],[-4.7,3.65],[-4.9,3.3],[-4.6,2.65],[-4.1,2.7],[-3.95,2.2],[-4.4,2.4],[-6.1,2.2],[-10.35,2.8],[-9.85,2.9],[-9.65,2.5],[-9,2.6],[-9.45,1.85],[-9.85,1.45],[-9.2,1.5],[-8.5,1.6],[-10.65,2.05],[-10.35,1.95],[-10.6,1.35],[-10.35,1.1],[-7.7,2],[-7.3,1.5],[-6.7,1.45],[-5.05,1.95],[-5.3,1.5],[-3.2,1.9],[-3.5,1.55],[-2.9,1.5],[-1.9,2.05],[-1.4,2.05],[-2,1.4],[-0.6,1.75],[-0.45,1.7],[-7.9,1.05],[-9.1,0.95],[-8.4,0.85],[-7.95,0.65],[-8.85,0.6],[-4.1,1.2],[-4.3,0.7],[-6.2,1.2],[-5.55,1.3],[-4.9,1.2],[-6.7,1.05],[-7.3,0.3],[-6.8,0.65],[-6.3,0.5],[-9.7,0.55],[-10.2,0.45],[-10.6,-0.1],[-10.2,-0.15],[-9.45,-0.15],[-7.3,-0.3],[-8.4,-0.1],[-8.95,-0.4],[-8.05,-0.85],[-8,-0.75],[-9.95,-0.7],[-9.9,-1.05],[-6.95,-0.7],[-6.3,-1.3],[-10.75,-0.95],[-10.4,-1.1],[-8.95,-1.15],[-9.2,-1.5],[-8.05,-1.6],[-7.3,-1.6],[-9.7,-1.7],[-9.6,-2.3],[-8.85,-1.85],[-6.6,-2.2],[-8.05,-2.4],[-7.55,-1.95],[-10.7,-2.95],[-10.1,-2.85],[-9.45,-2.95],[-8.1,-2.75],[-5.9,-2.35],[-10.45,-3.5],[-9.7,-3.4],[-8.95,-3.65],[-9.55,-3.8],[-10.7,-4.2],[-7.55,-3.65],[-7,-4.05],[-7.8,-4.2],[-8.05,-4.3],[-6.6,-4.2],[-9.45,-4.6],[-8.2,-4.75],[-7.8,-4.8],[-10.2,-4.85],[-7,-4.8],
[-10.1,-6.75],[-10.15,-7.15],[-9.3,-6.7],[-9.15,-7],[-8.7,-7.4],[-9,-7.8],[-8.3,-8.4],[-7.7,-7.8],[-7.7,-8.25],[-7,-8.15],[-9.25,-9],[-8.95,-8.95],[-8.05,-8.95],[-7.4,-9],[-7.4,-9.2],[-9.05,-9.55],[-8.65,-9.65],[-7.9,-9.6],[-9.7,-10.3],[-8.85,-10.25],[-8.55,-10.25],[-8.3,-10],[-7.55,-10],[-7.05,-9.8],[-6.8,-10.1],[-10.3,-10.7],[-7.75,-10.65],[-7.05,-10.6],[-6.35,-10.55],[-6,-10.5],[-9.25,-11.5],[-9.35,-11.8],[-10.2,-11.7],[-9.1,-12.2],[-8.5,-11.35],[-8.2,-11.25],[-7.7,-11.15],[-7.4,-10.9],[-8.05,-11.8],[-7.55,-12],[-8.3,-12.35],[-8.7,-12.65],[-8.85,-12.95],[-7.7,-12.55],[-6.7,-11.35],[-6.2,-11.4],[-5.7,-11.4],[-5.15,-11.5],[-5.75,-11.05],[-5.25,-11],[-4.8,-11],[-6.2,-11.8],[-5.85,-12],[-7.05,-11.7],[-5.25,-12.25],[-6.2,-12.75],[-5.55,-12.65],[-4.6,-12.45],[-4.35,-12.5],[-3.95,-12.4],[-3.55,-11.9],[-3.35,-12.15],[-3.15,-12.7],[-2.75,-13.15],[-2.5,-13.2],[-2.3,-13.15],[-3.8,-13.05],[-7.4,-12.95],[-8.95,-13.15],[-11.6,-13.45],[-8.65,-13.6],[-8.65,-13.8],[-8.05,-13.55],[-7.85,-13.3],[-7.3,-13.65],[-6.7,-13.5],[-6.45,-13.55],[-6.6,-13.8],[-6.45,-14],[-5.65,-13.3],[-5.35,-13.85],[-4.9,-13.3],[-4.6,-13.5],[-3.8,-13.6],[-5.85,-13.8],[-1.7,-13.3],[-0.8,-11.85],[-0.35,-12.3],[-1.9,-12.05],[-2.05,-12.5],[-2.45,-13.9],[-2.5,-14.2],[-4.3,-14.05],[-4.3,-14.3],[-5,-14.15],[-4.75,-14.45],[-5.7,-14.35],[-5.55,-14.75],[-5.05,-14.75],[-4.8,-14.95],[-4.25,-14.9],[-6.35,-14.55],[-6.5,-14.8],[-6.5,-15.15],[-7.4,-14.6],[-7.4,-14.85],[-8.4,-14.55],[-8.25,-14.8],[-9.45,-14.2],[-9.7,-14],[-10.15,-15.2],[-3.45,-15.15],[-2.6,-14.8],[-5.3,-15.3],[-4.85,-15.5],[-5.05,-15.95],[-8.65,-15.65],[-10.9,-15.7],[-7.7,-15.8],[-6.05,-15.9],[-5.7,-16.1],[-5.65,-16.45],[-3.9,-15.95],[-4.5,-16.3],[-3.5,-16.15],[-3,-16.15],[-3,-16.6],[-2.45,-16.45],[-1.95,-15.8],[-1.9,-16.1],[-7.2,-16.15],[-6.9,-16.6],[-8.6,-16.65],[-8.1,-16.95],[-7.85,-17.35],[-8.4,-17.45],[-4.65,-17.1],[-3.65,-16.9],[-3.95,-17.35],[-4.05,-17.55],[-10.2,-17.35],[-9.7,-17.65],[-6.75,-17.7],[-7.95,-18],[-4.05,-18.05],[-9.95,-18.3],[-10.4,-18.4],[-9.95,-18.55],[-12.25,-18.8],[-11.6,-19.1],[-9.4,-19.1],[-5.3,-18.65],[-5.85,-18.95],[-5.15,-19.2],[-5.15,-19.45],[-6.8,-19.2],[-6.95,-19.35],[-2.15,-19.75],[-9.1,-20.05],[-8.8,-20.1],[-10.4,-20.5],[-10.4,-21],[-9.35,-20.6],[-6.7,-20.65],[-4.3,-20.5],[-4.5,-21.1],[-8.9,-21],[-8.75,-21.3],[-4.4,-21.75],[-8.4,-22],[-6.2,-22],[-4.4,-21.85],
[0.5,-5],[-0.05,-4.75],[-0.45,-5.45],[-1,-6.5],[-0.8,-5.85],[-1.5,-7.35],[-1.2,-7.8],[-0.95,-8.3],[-1.85,-8.5],[-1.9,-9.05],[-2.35,-8.8],[-2.95,-9.15],[-2.85,-9.6],[-2.9,-10],[-2.3,-9.75],[-2.15,-10.35],[-1.9,-10.7],[-2.7,-10.65],[-3.15,-10.7],[-2.5,-11],[-0.25,-8.75],[0.7,-4.45],[0,-4.05],[0.45,-4],[1.05,-3.2],[1.5,-2.6],[0.2,-4.3]];
// clumps and fingers around the mass, close-up crops
const oddFingers: Pt[] = [[-4.4,6.05],[-4,5.7],[-4,5.4],[-4.2,5],[-4.5,4.65],[-5,4.45],[-5.5,5.45],[-3.4,5.75],[-3.15,5.5],[-3.75,4.75],[-3.3,4.75],[-3.65,4.35],[-3.05,4.55],[-2.6,4.4],[-2.25,4.25],[-3.05,3.8],[-2.55,3.9],[-3.9,3.8],[-3.45,3.25],[-2.2,3.4],[-1.9,3.15],[-2.8,3.05],[-2.35,3],[-2.6,2.55],[-2.2,2.55],[-1.8,2.55],[-1.65,2.15],[-1.3,2.2],[-2,1.9],[-1.45,1.65],[-0.95,1.8],[-0.5,1.65],[-2.1,1.4],[-1.65,1.2],[-1,1.3],[-5.1,3.5],[-4.75,3.65],[-4.95,3.15],[-4.55,3.15],[-4.65,2.55],[-4.1,2.7],[-4,2.2],[-4.45,1.85],[-3.55,1.7],[-3.15,2],[-3.4,1.4],[-2.95,1.55],[-5.15,2],[-5.25,1.55],[-5.1,1.25],[-5.45,1],[-5.8,1.3],[-6.2,1.2],[-6.5,0.95],[-6.75,1.4],[-7.3,1.55],[-7.7,1.75],[-4.1,1.2],[-4.3,0.65],[-3.15,0.7],[-7.35,0.3],[-6.9,0.55],[-6.3,0.55],[-5.7,0.65],[-5.35,0.55],[-4.9,0.15],[-7.45,-0.3],[-6.55,0.05],[-5.95,0.05],[-5.45,-0.05],[-6.2,-0.35],[-5.55,-0.45],[-4.8,-0.35],[-4.1,-0.1],[-3.5,0.15],[-2.9,0.55],[-2.5,0.5],[-2,0.55],[-8,-0.85],[-7.3,-0.7],[-6.75,-0.85],[-6.15,-0.85],[-5.55,-0.85],[-4.9,-0.85],[-9.5,-0.2],[-8.95,-0.55],[-8.4,0],[-9.9,-0.8],[-9.5,1.8],[-9.15,1.55],[-9.1,2.55],[-9.8,2.9],[-8.2,3.55],[-7.9,3.9],[-8.4,3.1],[-8,3.15],[-8.2,2.5],[-8.15,2.05],[-8.5,1.65],[-9.1,1],[-8.9,0.55],[-8.4,0.85],[-7.95,0.65],[-8,1.05],[-9.75,0.55],[-6.45,3.3],[-5.9,3.25],[-6.75,3],[-6.55,2.05],[-6.2,2.3],[-6.05,2.05],[-5.6,6],[-6.15,5.15],[-7.1,4.65],[-9.2,4.45],[-8.65,4.5],[-8.1,4.45],[-8.85,6.9],[-8.4,6.7],[-9.8,6],[-9.15,5.95],[-9.35,5.6],[-8.75,5.3],
[-9.2,-1.3],[-8.7,-1.3],[-8.15,-1.3],[-7.6,-1.3],[-7.1,-1.3],[-6.55,-1.3],[-6.2,-1.3],[-9.55,-1.75],[-9.05,-1.75],[-8.5,-1.75],[-8,-1.75],[-7.45,-1.75],[-6.95,-1.75],[-9.65,-2.25],[-9.1,-2.25],[-8.6,-2.25],[-8.05,-2.25],[-7.7,-0.85],[-7.1,-0.85],[-6.55,-0.85],[-6.05,-0.85],[-7.55,-0.1],[-7,-0.1],[-6.4,-0.1],[-5.85,-0.1],[-5.35,-0.1],[-4.8,-0.1],[-7.25,-0.45],[-6.75,-0.45],[-6.2,-0.45],[-5.7,-0.45],[-5.15,-0.45],[-11.05,-2.75],[-10.6,-2.75],[-10.2,-2.75],[-9.75,-2.75],[-9.3,-2.75],[-11.25,-3.1],[-10.8,-3.1],[-10.35,-3.1],[-9.9,-3.1],[-9.45,-3.1],[-9.1,-3.1],[-11.25,-3.45],[-10.8,-3.45],[-10.35,-3.45],[-9.9,-3.45],[-9.45,-3.45],[-11.15,-3.85],[-10.7,-3.85],[-10.2,-3.85],[-9.55,-3.85],[-9.05,-3.85],[-11.15,-4.1],[-6.05,-3.35],[-5.5,-3.35],[-6.2,-3.75],[-5.7,-3.75],[-6.4,-4.25],[-5.85,-4.25],[-6.3,-4.75],[-5.8,-4.75],[-7.1,-5.25],[-6.55,-5.25],[-6.05,-5.25],[-5.5,-5.25],[-6.9,-5.75],[-6.4,-5.75],[-5.85,-5.75],[-5.35,-5.75],[-6.9,-6.25],[-6.4,-6.25],[-5.85,-6.25],[-5.35,-6.25],[-4.8,-6.25],[-7,-6.75],[-6.4,-6.75],[-5.85,-6.75],[-6.65,-7.25],[-6.1,-7.25],[-5.6,-7.25],[-5.05,-7.25],[-6.9,-7.75],[-6.4,-7.75],[-5.85,-7.75],[-5.35,-7.75],[-4.8,-7.75],[-7.1,-8.25],[-6.55,-8.25],[-6.05,-8.25],[-5.5,-8.25],[-5,-8.25],[-4.45,-8.25],[-3.95,-8.25],[-6.85,-8.75],[-6.3,-8.75],[-5.8,-8.75],[-5.25,-8.75],[-4.7,-8.75],[-4.2,-8.75],[-3.65,-8.75],[-6.9,-9.25],[-6.3,-9.25],[-5.7,-9.25],[-5.1,-9.25],[-4.55,-9.25],[-4.05,-9.25],[-3.5,-9.25],[-7.55,-9.75],[-7,-9.75],[-6.5,-9.75],[-5.1,-9.75],[-4.55,-9.75],[-4.05,-9.75],[-3.5,-9.75],[-4.8,-10.25],[-4.3,-10.25],
[-9.45,-0.15],[-8.4,-0.1],[-8.95,-0.45],[-8,-0.75],[-9.95,-0.75],[-10.4,-1.15],[-9.8,-1.2],[-11.3,-1.65],[-8.15,-2.75],[-7.55,-3.65],[-8.1,-4.25],[-7.45,-4.05],[-7.05,-4.05],[-6.6,-4.2],[-6.7,-3.5],[-8.1,-4.7],[-7.85,-4.85],[-9.45,-4.6],[-9.3,-5],[-9.35,-5.4],[-10.2,-4.85],[-11.3,-4.95],[-11.15,-4.8],[-8.75,-5.15],[-8.5,-5.2],[-7.45,-5.35],[-7,-4.75],[-8.05,-5.75],[-8.6,-6.1],[-7.9,-6],[-7.6,-6.25],[-9,-6.45],[-9.3,-6.7],[-9.15,-7],[-8.4,-6.7],[-8.4,-6.9],[-10.1,-6.75],[-10.15,-7.1],[-7.35,-6.6],[-6.85,-6.2],[-7.15,-7.1],[-8.7,-7.4],[-9,-7.85],[-7.6,-7.5],[-7.7,-8.25],[-8.3,-8.45],[-7.05,-8.2],[-8.05,-8.95],[-9.25,-9],[-8.95,-8.95],[-7.45,-9],[-10.85,-9.75],[-9.05,-9.55],[-8.65,-9.65],[-7.95,-9.6],[-9.7,-10.25],[-8.7,-10.25],[-8.35,-10],[-7.8,-10.2],[-7.1,-9.95],[-1.55,-7.35],[-1.2,-7.75],[-0.95,-8.25],[-1,-6.55],[-0.45,-5.45],[-0.85,-5.85],[-0.15,-4.1],[-0.15,-4.75],[-1.8,-8.5],[-2.45,-8.7],[-1.9,-9.1],[-2.95,-9.2],[-2.35,-9.75],[-2.85,-9.95],[-3,-9.7],[-2.2,-10.35]];

// the solid purple mass: individual dots cannot be told apart here, so these
// are estimates that trace its outline, one row per y value
const oddCore: [number, number[]][] = [
  [2.6, [-2, -1.5]],
  [2.2, [-2.3, -1.8, -1.3, -0.85]],
  [1.8, [-2.4, -1.95, -1.5, -1.05, -0.6]],
  [1.35, [-3.2, -2.75, -2.3, -1.85, -1.4, -0.95, -0.5, -0.05]],
  [0.9, [-3.65, -3.2, -2.75, -2.3, -1.85, -1.4, -0.95, -0.5, -0.05, 0.15]],
  [0.45, [-4.2, -3.75, -3.3, -2.85, -2.4, -1.95, -1.5, -1.05, -0.6, -0.15, 0.25]],
  [0, [-7.1, -6.6, -6.1, -5.6, -5.1, -4.6, -4.15, -3.7, -3.25, -2.8, -2.35, -1.9, -1.45, -1, -0.55, -0.1, 0.35, 0.6]],
  [-0.45, [-7.5, -7, -6.5, -6, -5.5, -4.85, -4.4, -3.95, -3.5, -3.05, -2.6, -2.15, -1.7, -1.25, -0.8, -0.35, 0.1, 0.55, 0.85]],
  [-0.9, [-5.05, -4.6, -4.15, -3.7, -3.25, -2.8, -2.35, -1.9, -1.45, -1, -0.55, -0.1, 0.35, 0.8, 1]],
  [-1.35, [-5.2, -4.75, -4.3, -3.85, -3.4, -2.95, -2.5, -2.05, -1.6, -1.15, -0.7, -0.25, 0.2, 0.65, 1.1]],
  [-1.8, [-5.25, -4.8, -4.35, -3.9, -3.45, -3, -2.55, -2.1, -1.65, -1.2, -0.75, -0.3, 0.15, 0.6, 1.05, 1.2]],
  [-2.25, [-5.6, -5.15, -4.7, -4.25, -3.8, -3.35, -2.9, -2.45, -2, -1.55, -1.1, -0.65, -0.2, 0.25, 0.7, 1.15, 1.3]],
  [-2.7, [-6, -5.55, -5.1, -4.65, -4.2, -3.75, -3.3, -2.85, -2.4, -1.95, -1.5, -1.05, -0.6, -0.15, 0.3, 0.75, 1.2, 1.55]],
  [-3.15, [-6.2, -5.75, -5.3, -4.85, -4.4, -3.95, -3.5, -3.05, -2.6, -2.15, -1.7, -1.25, -0.8, -0.35, 0.1, 0.55, 1]],
  [-3.6, [-6.4, -5.95, -5.5, -5.05, -4.6, -4.15, -3.7, -3.25, -2.8, -2.35, -1.9, -1.45, -1, -0.55, -0.1, 0.35, 0.75]],
  [-4.05, [-6.45, -6, -5.55, -5.1, -4.65, -4.2, -3.75, -3.3, -2.85, -2.4, -1.95, -1.5, -1.05, -0.6, -0.15, 0.2]],
  [-4.5, [-6.6, -6.15, -5.7, -5.25, -4.8, -4.35, -3.9, -3.45, -3, -2.55, -2.1, -1.65, -1.2, -0.75, -0.3]],
  [-4.95, [-6.8, -6.35, -5.9, -5.45, -5, -4.55, -4.1, -3.65, -3.2, -2.75, -2.3, -1.85, -1.4, -0.95, -0.6]],
  [-5.4, [-6.4, -5.95, -5.5, -5.05, -4.6, -4.15, -3.7, -3.25, -2.8, -2.35, -1.9, -1.45, -0.95]],
  [-5.85, [-5.8, -5.35, -4.9, -4.45, -4, -3.55, -3.1, -2.65, -2.2, -1.75, -1.25]],
  [-6.3, [-5.8, -5.35, -4.9, -4.45, -4, -3.55, -3.1, -2.65, -2.2, -1.75, -1.4]],
  [-6.75, [-5.9, -5.45, -5, -4.55, -4.1, -3.65, -3.2, -2.75, -2.3, -1.85, -1.7]],
  [-7.2, [-6, -5.55, -5.1, -4.65, -4.2, -3.75, -3.3, -2.85, -2.4, -2]],
  [-7.65, [-6.2, -5.75, -5.3, -4.85, -4.4, -3.95, -3.5, -3.05, -2.6]],
  [-8.1, [-6.4, -5.95, -5.5, -5.05, -4.6, -4.15, -3.7, -3.25, -2.9]],
  [-8.55, [-6.6, -6.15, -5.7, -5.25, -4.8, -4.35, -3.9, -3.45, -3.1]],
  [-9, [-6.8, -6.35, -5.9, -5.45, -5, -4.55, -4.1, -3.65, -3.3]],
  [-9.45, [-6.2, -5.75, -5.3, -4.85, -4.4, -3.95, -3.4]],
  [-9.9, [-5.4, -4.95, -4.5, -4.05, -3.6, -3.4]],
  [-10.35, [-5, -4.55, -4.1, -3.65, -3.4]],
  [-10.8, [-4.8, -4.35, -3.9, -3.5]],
  [-11.25, [-4.6, -4.15, -3.7]],
  // second pass between the rows above, so the mass reads as solid
  [1.1, [-3.4, -2.95, -2.5, -2.05, -1.6, -1.15, -0.7, -0.25]],
  [0.65, [-3.9, -3.45, -3, -2.55, -2.1, -1.65, -1.2, -0.75, -0.3, 0.1]],
  [0.2, [-4.4, -3.95, -3.5, -3.05, -2.6, -2.15, -1.7, -1.25, -0.8, -0.35, 0.1, 0.4]],
  [-0.25, [-4.65, -4.2, -3.75, -3.3, -2.85, -2.4, -1.95, -1.5, -1.05, -0.6, -0.15, 0.3, 0.7]],
  [-0.7, [-4.85, -4.4, -3.95, -3.5, -3.05, -2.6, -2.15, -1.7, -1.25, -0.8, -0.35, 0.1, 0.55, 0.9]],
  [-1.15, [-5.1, -4.65, -4.2, -3.75, -3.3, -2.85, -2.4, -1.95, -1.5, -1.05, -0.6, -0.15, 0.3, 0.75, 1.05]],
  [-1.6, [-5.2, -4.55, -4.1, -3.65, -3.2, -2.75, -2.3, -1.85, -1.4, -0.95, -0.5, -0.05, 0.4, 0.85, 1.15]],
  [-2.05, [-5.4, -4.95, -4.5, -4.05, -3.6, -3.15, -2.7, -2.25, -1.8, -1.35, -0.9, -0.45, 0, 0.45, 0.9, 1.25]],
  [-2.5, [-5.8, -5.35, -4.9, -4.45, -4, -3.55, -3.1, -2.65, -2.2, -1.75, -1.3, -0.85, -0.4, 0.05, 0.5, 0.95, 1.4]],
  [-2.95, [-6.1, -5.6, -5.15, -4.7, -4.25, -3.8, -3.35, -2.9, -2.45, -2, -1.55, -1.1, -0.65, -0.2, 0.25, 0.7, 1.15]],
  [-3.4, [-6.3, -5.8, -5.35, -4.9, -4.45, -4, -3.55, -3.1, -2.65, -2.2, -1.75, -1.3, -0.85, -0.4, 0.05, 0.5, 0.9]],
  [-3.85, [-6.4, -5.9, -5.45, -5, -4.55, -4.1, -3.65, -3.2, -2.75, -2.3, -1.85, -1.4, -0.95, -0.5, -0.05, 0.35]],
  [-4.3, [-6.5, -6.05, -5.6, -5.15, -4.7, -4.25, -3.8, -3.35, -2.9, -2.45, -2, -1.55, -1.1, -0.65, -0.2]],
  [-4.75, [-6.7, -6.25, -5.75, -5.3, -4.85, -4.4, -3.95, -3.5, -3.05, -2.6, -2.15, -1.7, -1.25, -0.8]],
  [-5.2, [-6.6, -6.15, -5.65, -5.2, -4.75, -4.3, -3.85, -3.4, -2.95, -2.5, -2.05, -1.6, -1.15]],
  [-5.6, [-6, -5.55, -5.1, -4.65, -4.2, -3.75, -3.3, -2.85, -2.4, -1.95, -1.45]],
  [-6.05, [-5.6, -5.15, -4.7, -4.25, -3.8, -3.35, -2.9, -2.45, -2, -1.55]],
  [-6.5, [-5.6, -5.15, -4.7, -4.25, -3.8, -3.35, -2.9, -2.45, -2, -1.6]],
  [-6.95, [-5.7, -5.25, -4.8, -4.35, -3.9, -3.45, -3, -2.55, -2.1]],
  [-7.4, [-5.8, -5.35, -4.9, -4.45, -4, -3.55, -3.1, -2.65, -2.25]],
  [-7.85, [-6, -5.55, -5.1, -4.65, -4.2, -3.75, -3.3, -2.85]],
  [-8.3, [-6.2, -5.7, -5.25, -4.8, -4.35, -3.9, -3.45, -3.05]],
  [-8.75, [-6.4, -5.95, -5.5, -5.05, -4.6, -4.15, -3.7, -3.25]],
  [-9.2, [-6.5, -6, -5.55, -5.1, -4.65, -4.2, -3.75, -3.35]],
  [-9.65, [-5.5, -5.05, -4.6, -4.15, -3.7]],
  [-10.1, [-5.2, -4.75, -4.3, -3.85, -3.45]],
  [-10.55, [-4.85, -4.4, -3.95, -3.55]],
  [-11, [-4.5, -4.05, -3.65]],
];

const evenPoints = [...evenFar, ...evenUpperMid, ...evenLowerMid, ...evenUpperDense, ...evenLowerDense, ...evenEdge, ...evenBand];
const oddPoints: Pt[] = [
  ...oddFar, ...oddUpperMid, ...oddLowerMid, ...oddUpperDense, ...oddLowerDense, ...oddEdge, ...oddFingers,
  ...oddCore.flatMap(([y, xs]) => xs.map((x): Pt => [x, y])),
];

const W = 2851;
const H = 2509;
const px = { left: 89, right: 2802, top: 164, bottom: 2428.7 };
const ORANGE = "#ff7f0e";
const PURPLE = "#9467bd";
const FONT = "'DejaVu Sans', sans-serif";

export default function App() {
  const ref = useRef<SVGSVGElement>(null);

  useEffect(() => {
    if (!ref.current) return;
    const svg = d3.select(ref.current);
    svg.selectAll("*").remove();

    const x = d3.scaleLinear().domain([-66.85, 4.74]).range([px.left, px.right]);
    const y = d3.scaleLinear().domain([-36.27, 20.27]).range([px.bottom, px.top]);

    svg.append("rect").attr("width", W).attr("height", H).attr("fill", "#fff");

    const dots = (sel: d3.Selection<any, any, any, any>, pts: Pt[], color: string) =>
      sel
        .selectAll("circle")
        .data(pts)
        .join("circle")
        .attr("cx", (d: Pt) => x(d[0]))
        .attr("cy", (d: Pt) => y(d[1]))
        .attr("r", 7.6)
        .attr("fill", color)
        .attr("stroke", color)
        .attr("stroke-width", 7)
        .attr("fill-opacity", 0.8)
        .attr("stroke-opacity", 0.8);

    dots(svg.append("g"), evenPoints, ORANGE);
    dots(svg.append("g"), oddPoints, PURPLE);

    const xAxis = svg
      .append("g")
      .attr("transform", `translate(0,${px.bottom})`)
      .call(d3.axisBottom(x).tickValues(xTicks).tickSize(24).tickPadding(1).tickFormat((d) => d3.format("d")(d as number).replace("-", "\u2212")));
    const yAxis = svg
      .append("g")
      .attr("transform", `translate(${px.left},0)`)
      .call(d3.axisLeft(y).tickValues(yTicks).tickSize(24).tickPadding(1).tickFormat((d) => d3.format("d")(d as number).replace("-", "\u2212")));
    for (const a of [xAxis, yAxis]) {
      a.select(".domain").remove();
      a.selectAll(".tick line").attr("stroke", "#000").attr("stroke-width", 5.2);
      a.selectAll("text").attr("fill", "#000").style("font-family", FONT).style("font-size", "7px");
    }

    svg
      .append("rect")
      .attr("x", px.left)
      .attr("y", px.top)
      .attr("width", px.right - px.left)
      .attr("height", px.bottom - px.top)
      .attr("fill", "none")
      .attr("stroke", "#000")
      .attr("stroke-width", 5.6);

    svg
      .append("text")
      .attr("x", (px.left + px.right) / 2)
      .attr("y", 123)
      .attr("text-anchor", "middle")
      .style("font-family", FONT)
      .style("font-size", "97.2px")
      .text(titleText);

    const legend = svg.append("g");
    legend
      .append("rect")
      .attr("x", 153)
      .attr("y", 227)
      .attr("width", 758)
      .attr("height", 404)
      .attr("rx", 24)
      .attr("fill", "#fff")
      .attr("fill-opacity", 0.8)
      .attr("stroke", "#ccc")
      .attr("stroke-opacity", 0.8)
      .attr("stroke-width", 5.6);
    const rowY = [339, 522];
    const baseY = [372.5, 555.5];
    legendLabels.forEach((label, i) => {
      const color = i === 0 ? ORANGE : PURPLE;
      legend
        .append("circle")
        .attr("cx", 327)
        .attr("cy", rowY[i])
        .attr("r", 7.6)
        .attr("fill", color)
        .attr("stroke", color)
        .attr("stroke-width", 7)
        .attr("fill-opacity", 0.8)
        .attr("stroke-opacity", 0.8);
      legend
        .append("text")
        .attr("x", 552)
        .attr("y", baseY[i])
        .style("font-family", FONT)
        .style("font-size", "125px")
        .text(label);
    });
  }, []);

  return <svg ref={ref} width={W} height={H} style={{ position: "absolute", left: 0, top: 0 }} />;
}
